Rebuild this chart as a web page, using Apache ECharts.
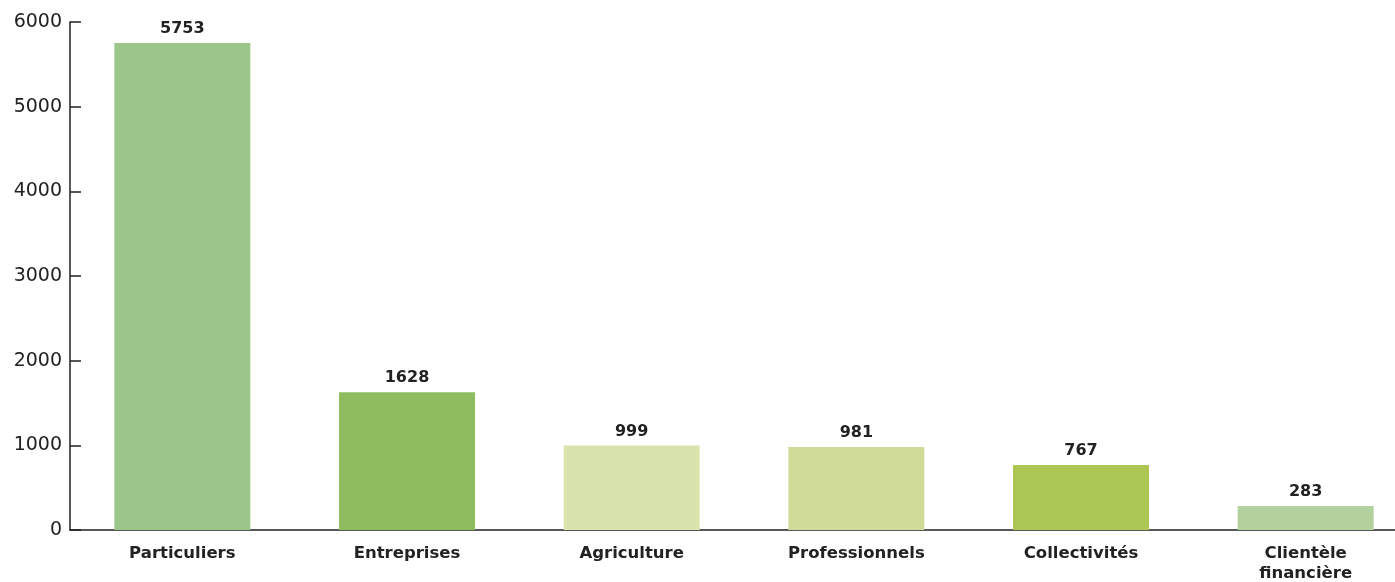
<!DOCTYPE html>
<html><head><meta charset="utf-8">
<script src="https://cdn.jsdelivr.net/npm/echarts@6/dist/echarts.min.js"></script>
<style>html,body{margin:0;padding:0;background:#fff}#c{width:1395px;height:582px}</style>
</head><body><div id="c"></div>
<script>
var categories = ['Particuliers', 'Entreprises', 'Agriculture', 'Professionnels', 'Collectivités', 'Clientèle\nfinancière'];
var values = [5753, 1628, 999, 981, 767, 283];
var colors = ['#9bc68a', '#8fbc5f', '#d9e3ae', '#d0db98', '#abc652', '#b3d19d'];
var yTicks = [0, 1000, 2000, 3000, 4000, 5000, 6000];

var chart = echarts.init(document.getElementById('c'));
chart.setOption({
  animation: false,
  grid: { left: 70, width: 1348, top: 22, height: 508, containLabel: false, outerBoundsMode: 'none' },
  xAxis: {
    type: 'category',
    data: categories,
    axisLine: { lineStyle: { color: '#222', width: 1.5 } },
    axisTick: { show: false },
    axisLabel: { color: '#222', fontFamily: 'DejaVu Sans', fontWeight: 'bold', fontSize: 16.5, margin: 14, lineHeight: 20 }
  },
  yAxis: {
    type: 'value',
    min: 0, max: 6000, interval: 1000,
    axisLine: { show: true, lineStyle: { color: '#222', width: 1.5 } },
    axisTick: { show: true, inside: true, length: 11, lineStyle: { color: '#222', width: 1.5 } },
    splitLine: { show: false },
    axisLabel: { color: '#222', fontFamily: 'DejaVu Sans', fontSize: 19, margin: 8, padding: [5, 0, 0, 0],
      formatter: function (v) { return yTicks.indexOf(v) >= 0 ? String(v) : ''; } }
  },
  series: [{
    type: 'bar',
    barWidth: 136,
    data: values.map(function (v, i) { return { value: v, itemStyle: { color: colors[i] } }; }),
    label: { show: true, position: 'top', distance: 6, color: '#222', fontFamily: 'DejaVu Sans', fontWeight: 'bold', fontSize: 16 }
  }]
});
</script></body></html>
